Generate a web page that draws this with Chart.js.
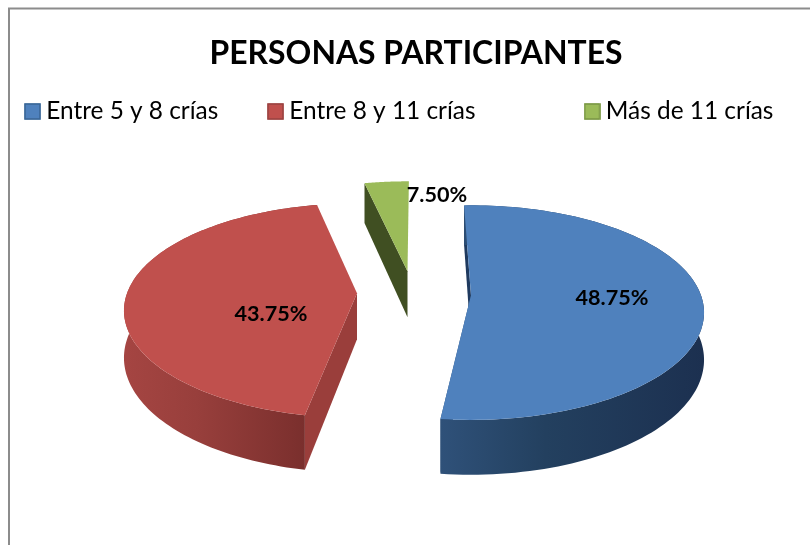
<!DOCTYPE html>
<html><head><meta charset="utf-8">
<style>html,body{margin:0;padding:0;background:#fff}canvas{display:block}</style>
<script src="https://cdn.jsdelivr.net/npm/chart.js@4/dist/chart.umd.min.js"></script>
</head><body>
<canvas id="c" width="810" height="545"></canvas>
<script>
const titleText = 'PERSONAS PARTICIPANTES';
const categories = ['Entre 5 y 8 crías', 'Entre 8 y 11 crías', 'Más de 11 crías'];
const shares = [48.75, 43.75, 7.5];

const topColors = ['#4f81bd', '#c0504d', '#9bbb59'];
const boxBorders = ['#3a6595', '#984240', '#7a9645'];
const legendPad = [' '.repeat(7) + '\u2009', ' '.repeat(17), ''];
// Drawing style of the tilted, exploded pie
const explode = [[55, 1], [-59, -1], [-8.5, -23]];
const labelOffsets = [[141, 3], [-86, 21], [29.5, -76]];
const visualSpans = [[-2, 186.4], [191, 348.4], [347.5, 360.4]];
const tilt = {ky: 0.4583, p: 0.161, depth: 46};
const walls = {
  start: ['#1f3a5f', '#404f22'],
  end: ['#2f5179', '#9a3e3b'],
  outer: [['#2f5179', '#23405f', '#1c3050'], ['#a54542', '#983f3c', '#7a2f2d'], ['#404f22', '#404f22', '#404f22']]
};

function swatch(fill, stroke) {
  const s = document.createElement('canvas');
  s.width = 17; s.height = 17;
  const g = s.getContext('2d');
  g.fillStyle = fill; g.fillRect(0.5, 0.5, 16, 16);
  g.strokeStyle = stroke; g.lineWidth = 1.5; g.strokeRect(1, 1, 15, 15);
  return s;
}

const pie3d = {
  id: 'pie3d',
  beforeDraw(chart) {
    const ctx = chart.ctx;
    ctx.save();
    ctx.strokeStyle = '#8c8c8c'; ctx.lineWidth = 2;
    ctx.beginPath(); ctx.moveTo(9, 545); ctx.lineTo(9, 8.5); ctx.lineTo(810, 8.5); ctx.stroke();
    ctx.restore();
  },
  beforeDatasetsDraw(chart) {
    const ctx = chart.ctx;
    const arcs = chart.getDatasetMeta(0).data;
    ctx.save();
    arcs.forEach((arc, i) => {
      const R = arc.outerRadius;
      const ax = arc.x + explode[i][0], ay = arc.y + explode[i][1];
      const proj = (deg, r, low) => {
        const t = deg * Math.PI / 180;
        const u = r * Math.sin(t), v = -r * Math.cos(t), w = 1 - tilt.p * v;
        return [ax + R * u / w, ay + 228 * tilt.ky * v / w + (low ? tilt.depth / w : 0)];
      };
      const a0 = visualSpans[i][0], a1 = visualSpans[i][1];
      const rim = [];
      for (let k = 0; k <= 120; k++) rim.push(a0 + (a1 - a0) * k / 120);
      const poly = pts => {
        ctx.beginPath();
        pts.forEach((p, k) => k ? ctx.lineTo(p[0], p[1]) : ctx.moveTo(p[0], p[1]));
        ctx.closePath();
      };
      const quad = a => poly([proj(a, 1, false), proj(a, 0, false), proj(a, 0, true), proj(a, 1, true)]);
      const up = rim.map(d => proj(d, 1, false));
      const down = rim.map(d => proj(d, 1, true)).reverse();
      const xs = up.map(p => p[0]);
      const xMin = Math.min(...xs), xMax = Math.max(...xs);
      const grad = i === 0
        ? ctx.createLinearGradient(proj(a1, 1, false)[0], 0, xMax, 0)
        : ctx.createLinearGradient(xMin, 0, proj(a0, 1, false)[0], 0);
      const stops = walls.outer[i];
      grad.addColorStop(0, stops[0]); grad.addColorStop(0.4, stops[1]); grad.addColorStop(1, stops[2]);
      // cut walls
      if (i === 0) {
        ctx.fillStyle = walls.start[0]; quad(a0); ctx.fill();
        ctx.fillStyle = walls.end[0]; quad(a1); ctx.fill();
      } else if (i === 1) {
        ctx.fillStyle = walls.end[1]; quad(a0); ctx.fill();
      } else {
        ctx.fillStyle = walls.start[1]; quad(a0); ctx.fill();
      }
      // outer wall
      ctx.fillStyle = grad;
      poly(up.concat(down)); ctx.fill();
      // top face
      ctx.fillStyle = arc.options.backgroundColor;
      poly(up.concat([proj(a0, 0, false)])); ctx.fill();
    });
    ctx.fillStyle = '#000';
    ctx.font = 'bold 21.6px Lato';
    ctx.textAlign = 'center'; ctx.textBaseline = 'middle';
    arcs.forEach((arc, i) => {
      ctx.fillText(shares[i].toFixed(2) + '%', arc.x + explode[i][0] + labelOffsets[i][0], arc.y + explode[i][1] + labelOffsets[i][1]);
    });
    ctx.restore();
    return false;
  }
};

new Chart(document.getElementById('c'), {
  type: 'pie',
  data: {
    labels: categories,
    datasets: [{data: shares, backgroundColor: topColors, borderWidth: 0, radius: 230}]
  },
  options: {
    responsive: false,
    animation: false,
    layout: {padding: {left: 22, bottom: 90}},
    plugins: {
      tooltip: {enabled: false},
      title: {
        display: true, text: titleText, color: '#000',
        font: {family: 'Lato', size: 31.9, weight: 'bold', lineHeight: 1.2},
        padding: {top: 35, bottom: 17}
      },
      legend: {
        display: true, position: 'top', align: 'start',
        labels: {
          color: '#000', font: {family: 'Lato', size: 24.4},
          usePointStyle: true, pointStyleWidth: 3, boxHeight: 17, padding: 9,
          generateLabels(chart) {
            return Chart.overrides.pie.plugins.legend.labels.generateLabels(chart).map((it, i) => ({
              ...it, text: categories[i] + legendPad[i], pointStyle: swatch(topColors[i], boxBorders[i]), lineWidth: 0
            }));
          }
        }
      }
    }
  },
  plugins: [pie3d]
});
</script>
</body></html>
